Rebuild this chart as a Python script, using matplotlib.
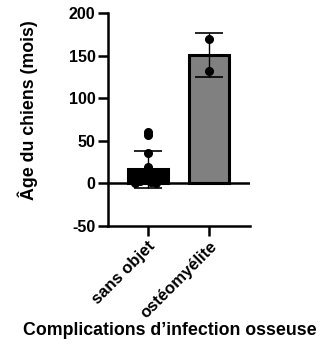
import matplotlib
matplotlib.use("Agg")
import matplotlib.pyplot as plt
import numpy as np

plt.rcParams['font.family'] = ['Liberation Sans', 'DejaVu Sans']
plt.rcParams['font.weight'] = 'bold'

categories = ["sans objet", "ostéomyélite"]
sans_objet = [60, 57, 36, 19, 6, 5, 5, 4, 3, 2, 1, 0]
sans_objet_offsets = [0.0, 0.0, 0.0, 0.0, -0.18, 0.12, -0.06, 0.2, -0.12, 0.06, -0.2, 0.14]
osteo = [169, 132]
osteo_offsets = [0.0, 0.0]
groups = [sans_objet, osteo]
offsets = [sans_objet_offsets, osteo_offsets]
bar_colors = ["black", "#808080"]
yticks = [-50, 0, 50, 100, 150, 200]

fig = plt.figure(figsize=(3.22, 3.44), dpi=100)
ax = fig.add_axes([108/322, 1-226/344, 142/322, 213/344])

x = np.arange(len(categories))
means = [np.mean(g) for g in groups]
sds = [np.std(g, ddof=1) for g in groups]

ax.bar(x, means, width=0.645, color=bar_colors, edgecolor='black', linewidth=2.2, zorder=2)
for xi, g, off in zip(x, groups, offsets):
    ax.plot(xi + np.array(off), g, 'o', color='black', markersize=5.5,
            zorder=3, clip_on=False)
ax.errorbar(x, means, yerr=sds, fmt='none', ecolor='black', elinewidth=1.0,
            capsize=10, capthick=1.2, zorder=4)
ax.axhline(0, color='black', linewidth=1.8, zorder=1)

ax.set_xlim(-0.645, 1.66)
ax.set_ylim(-50, 200)
ax.set_yticks(yticks)
ax.set_yticklabels([str(t) for t in yticks], fontsize=11.5, fontweight='bold')
ax.set_xticks(x)
ax.set_xticklabels(categories, rotation=45, ha='right', rotation_mode='anchor',
                   fontsize=12, fontweight='bold')
for s in ['top', 'right']:
    ax.spines[s].set_visible(False)
for s in ['left', 'bottom']:
    ax.spines[s].set_linewidth(1.8)
ax.tick_params(axis='both', width=1.8, length=7, pad=2)

ax.set_ylabel("Âge du chiens (mois)", fontsize=12.8, fontweight='bold', labelpad=22)
ax.yaxis.label.set_y(0.545)
ax.set_xlabel("Complications d\u2019infection osseuse", fontsize=12.8, fontweight='bold', labelpad=1)
ax.xaxis.label.set_x(0.437)

fig.savefig("out.png", dpi=100)
